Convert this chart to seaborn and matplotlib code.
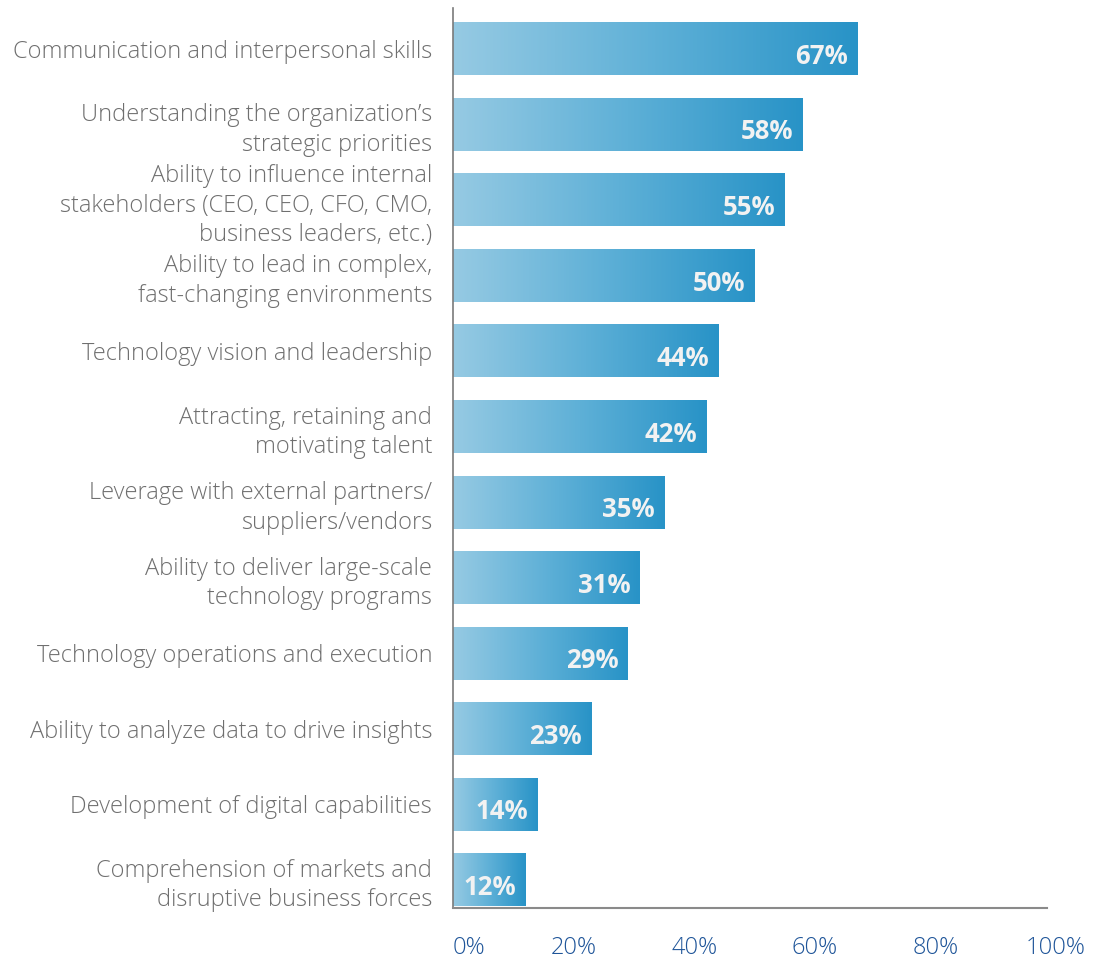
import numpy as np
import pandas as pd
import seaborn as sns
import matplotlib.pyplot as plt
from matplotlib.colors import LinearSegmentedColormap

# data
skills = [
    "Communication and interpersonal skills",
    "Understanding the organization\u2019s\nstrategic priorities",
    "Ability to influence internal\nstakeholders (CEO, CEO, CFO, CMO,\nbusiness leaders, etc.)",
    "Ability to lead in complex,\nfast-changing environments",
    "Technology vision and leadership",
    "Attracting, retaining and\nmotivating talent",
    "Leverage with external partners/\nsuppliers/vendors",
    "Ability to deliver large-scale\ntechnology programs",
    "Technology operations and execution",
    "Ability to analyze data to drive insights",
    "Development of digital capabilities",
    "Comprehension of markets and\ndisruptive business forces",
]
percent = [67, 58, 55, 50, 44, 42, 35, 31, 29, 23, 14, 12]
xticks = [0, 20, 40, 60, 80, 100]
xtick_labels = ["0%", "20%", "40%", "60%", "80%", "100%"]

df = pd.DataFrame({"skill": skills, "pct": percent})

sns.set_style("white")
plt.rcParams["font.family"] = ["Open Sans", "DejaVu Sans"]

fig = plt.figure(figsize=(10.97, 9.6), dpi=100)
ax = fig.add_axes([0.413, 0.0542, 0.5497, 0.9375])

sns.barplot(data=df, y="skill", x="pct", orient="h", color="#5aaed6",
            width=0.70, ax=ax, saturation=1)

# gradient fill on each bar
cmap = LinearSegmentedColormap.from_list("bars", ["#96cae3", "#5eb0d7", "#2893c7"])
grad = np.linspace(0, 1, 256).reshape(1, -1)
for p in ax.patches:
    x0, y0 = p.get_x(), p.get_y()
    w, h = p.get_width(), p.get_height()
    p.set_facecolor("none")
    p.set_edgecolor("none")
    ax.imshow(grad, extent=[x0, x0 + w, y0 + h, y0], cmap=cmap,
              aspect="auto", zorder=2, interpolation="bicubic")

# value labels
for i, v in enumerate(percent):
    ax.text(v - 1.6, i + 0.1, f"{v}%", ha="right", va="center",
            color="#f2f2f2", fontsize=18.5, fontweight="bold", zorder=3)

ax.set_xlim(0, 100)
ax.set_ylim(11.37, -0.54)
ax.set_xticks(xticks)
ax.set_xticklabels(xtick_labels)
ax.set_xlabel("")
ax.set_ylabel("")

ax.tick_params(axis="y", length=0, pad=15, labelsize=17, labelcolor="#6f6f6f")
ax.tick_params(axis="x", length=0, pad=20, labelsize=17, labelcolor="#1f5599")
for lbl in ax.get_yticklabels():
    lbl.set_multialignment("right")
    lbl.set_linespacing(1.3)
    lbl.set_fontweight("light")
for lbl in ax.get_xticklabels():
    lbl.set_fontweight("light")
ax.get_xticklabels()[0].set_ha("left")

sns.despine(ax=ax, top=True, right=True)
ax.spines["left"].set_color("#7a7a7a")
ax.spines["bottom"].set_color("#8a8a8a")
ax.spines["left"].set_linewidth(1.2)
ax.spines["bottom"].set_linewidth(1.5)
ax.spines["bottom"].set_bounds(0, 98.5)

fig.savefig("out.png", dpi=100)
